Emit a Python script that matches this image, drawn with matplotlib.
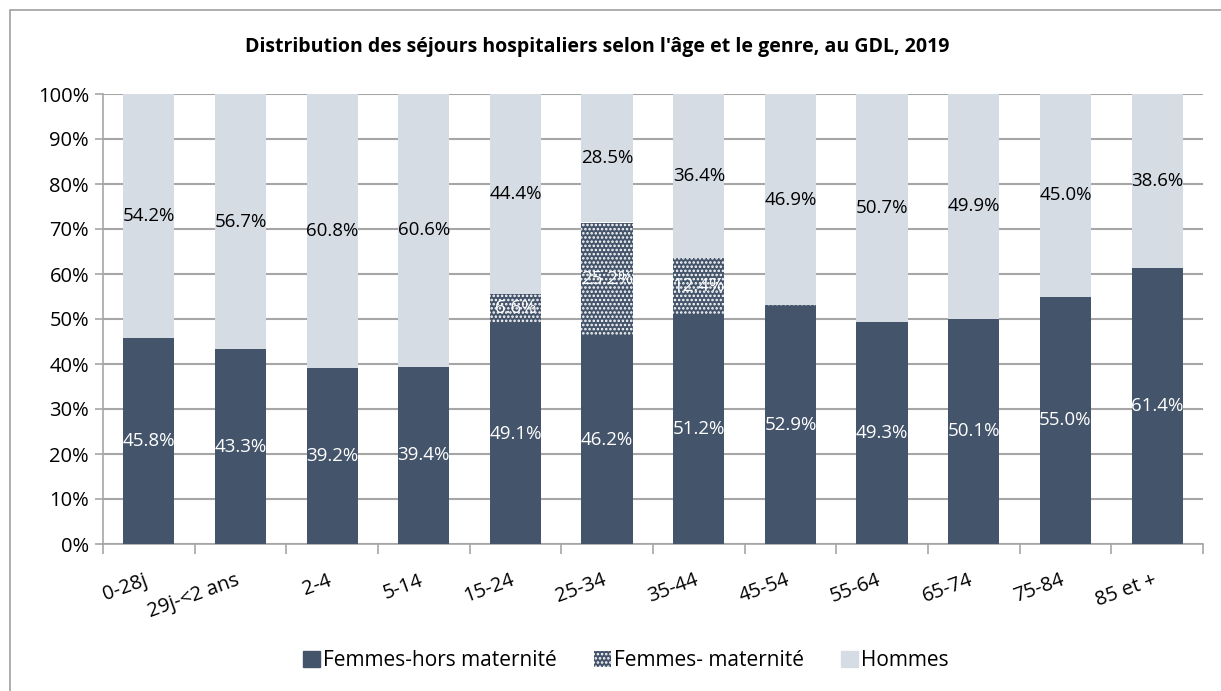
import matplotlib
matplotlib.use("Agg")
import matplotlib.pyplot as plt
import numpy as np
import matplotlib.transforms as mtrans
from matplotlib.patches import Patch, Rectangle

plt.rcParams['font.family'] = ['Open Sans', 'DejaVu Sans']
plt.rcParams['hatch.linewidth'] = 1.2

categories = ["0-28j", "29j-<2 ans", "2-4", "5-14", "15-24", "25-34", "35-44",
              "45-54", "55-64", "65-74", "75-84", "85 et +"]
femmes_hors = [45.8, 43.3, 39.2, 39.4, 49.1, 46.2, 51.2, 52.9, 49.3, 50.1, 55.0, 61.4]
femmes_mat = [0.0, 0.0, 0.0, 0.0, 6.6, 25.2, 12.4, 0.2, 0.0, 0.0, 0.0, 0.0]
hommes = [54.2, 56.7, 60.8, 60.6, 44.4, 28.5, 36.4, 46.9, 50.7, 49.9, 45.0, 38.6]
yticks = [0, 10, 20, 30, 40, 50, 60, 70, 80, 90, 100]

dark = "#44546A"
light = "#D6DCE4"
grid = "#A6A6A6"

fig = plt.figure(figsize=(12.21, 6.91), dpi=100)
ax = fig.add_axes([103/1221, 1-544/691, 1100/1221, 450/691])

x = np.arange(len(categories))
w = 0.56
fh = np.array(femmes_hors)
fm = np.array(femmes_mat)
hm = np.array(hommes)

ax.bar(x, fh, w, color=dark, linewidth=0, zorder=3)
ax.bar(x, fm, w, bottom=fh, facecolor=dark, edgecolor="white", hatch="....",
       linewidth=0, zorder=3)
top = 100 - hm
ax.bar(x, hm, w, bottom=top, color=light, linewidth=0, zorder=3)

fs = 13.5
for i in range(len(x)):
    ax.text(x[i], fh[i]/2, f"{fh[i]:.1f}%", ha="center", va="center",
            color="white", fontsize=fs, zorder=5)
    if fm[i] >= 1:
        ax.text(x[i], fh[i] + fm[i]/2, f"{fm[i]:.1f}%", ha="center", va="center",
                color="white", fontsize=fs, zorder=5)
    ax.text(x[i], top[i] + hm[i]/2, f"{hm[i]:.1f}%", ha="center", va="center",
            color="black", fontsize=fs, zorder=5)

ax.set_xlim(-0.5, len(x) - 0.5)
ax.set_ylim(0, 100)
ax.set_yticks(yticks)
ax.set_yticklabels([f"{v}%" for v in yticks], fontsize=14.5)
ax.yaxis.grid(True, color=grid, linewidth=1.5, zorder=0)
ax.set_axisbelow(True)

ax.set_xticks(np.arange(len(x) + 1) - 0.5)
ax.set_xticklabels([])
ax.set_xticks(x, minor=True)
ax.set_xticklabels(categories, minor=True, rotation=20, ha="right",
                   rotation_mode="anchor", fontsize=14.5)
ax.tick_params(axis="x", which="minor", length=0, pad=19)
ax.tick_params(axis="x", which="major", length=7, color=grid, width=1.2)
ax.tick_params(axis="y", length=6, color=grid, width=1.2, pad=4)

for s in ["top", "right"]:
    ax.spines[s].set_visible(False)
for s in ["left", "bottom"]:
    ax.spines[s].set_color(grid)
    ax.spines[s].set_linewidth(1.2)

offset = mtrans.ScaledTranslation(-0.05, 0, fig.dpi_scale_trans)
for lab in ax.xaxis.get_minorticklabels():
    lab.set_transform(lab.get_transform() + offset)

fig.text(597/1221, 1-47/691,
         "Distribution des séjours hospitaliers selon l'âge et le genre, au GDL, 2019",
         ha="center", va="center", fontsize=14, fontweight="bold")

handles = [Patch(facecolor=dark, edgecolor=dark, label="Femmes-hors maternité"),
           Patch(facecolor=dark, edgecolor="white", hatch="....", linewidth=0,
                 label="Femmes- maternité"),
           Patch(facecolor=light, edgecolor=light, label="Hommes")]
fig.legend(handles=handles, loc="center", bbox_to_anchor=(626/1221, 1-661/691),
           ncol=3, frameon=False, fontsize=15, handlelength=0.8, handleheight=0.8,
           columnspacing=1.8, handletextpad=0.15)

fig.add_artist(Rectangle((10/1221, -0.01), 1.02, 1 - 10/691 + 0.01,
                         transform=fig.transFigure, fill=False,
                         edgecolor="#A0A0A0", linewidth=1.2))

fig.savefig("out.png", dpi=100)
